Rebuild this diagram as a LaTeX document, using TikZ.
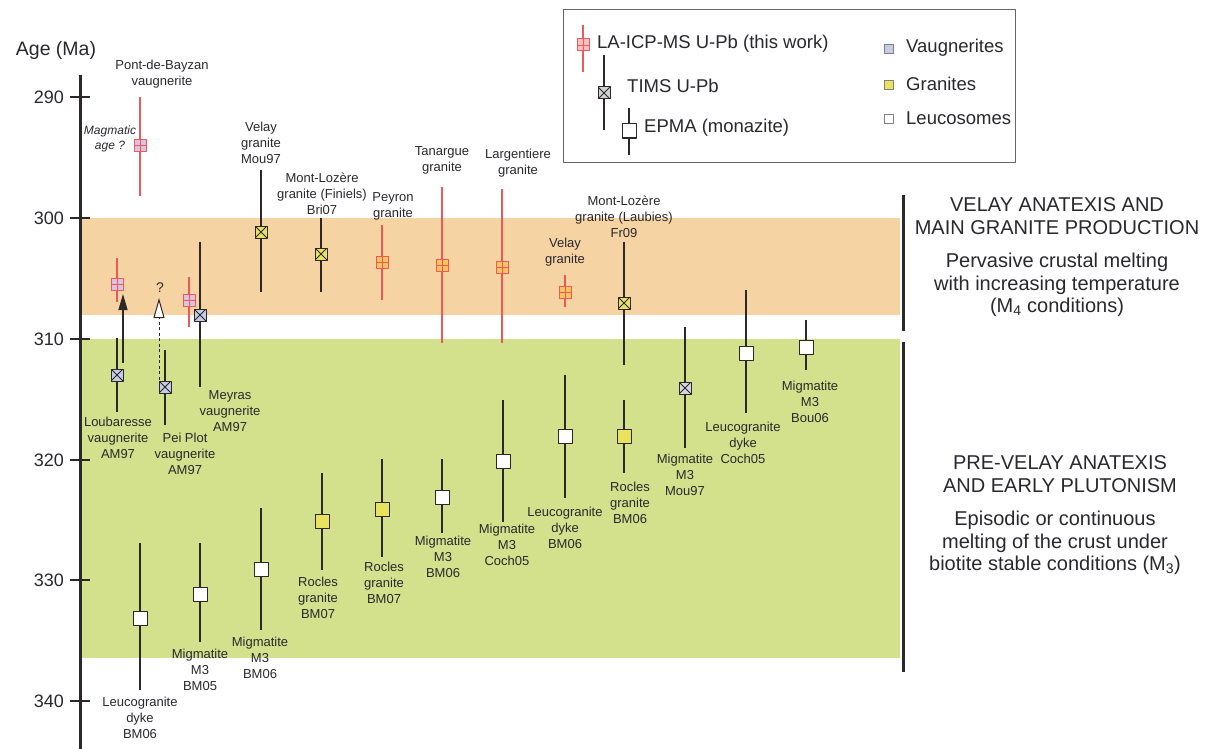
\documentclass[tikz,border=0pt]{standalone}
\usepackage{fontspec}
\setmainfont{Liberation Sans}
\usetikzlibrary{arrows.meta}
\definecolor{bandorange}{RGB}{246,211,163}
\definecolor{bandgreen}{RGB}{212,225,140}
\definecolor{barred}{RGB}{238,88,88}
\definecolor{bargray}{RGB}{45,40,40}
\definecolor{txtgray}{RGB}{40,40,45}
\definecolor{vaugfill}{RGB}{196,204,232}
\definecolor{granfill}{RGB}{232,226,92}
\definecolor{migfill}{RGB}{214,214,224}
\definecolor{lavaug}{RGB}{214,196,226}
\definecolor{lagran}{RGB}{250,196,96}
\begin{document}
\begin{tikzpicture}[x=1pt, y=-1pt, line join=round, >=Stealth,
	lbl/.style={font=\fontsize{13}{16}\selectfont, align=center, text=txtgray, inner sep=0pt},
	bigtxt/.style={font=\fontsize{20}{22.5}\selectfont, align=center, text=txtgray, inner sep=0pt},
	legtxt/.style={font=\fontsize{18.5}{20}\selectfont, text=txtgray, anchor=west, inner sep=0pt},
	bar/.style={line width=1.3pt, draw=bargray},
	redbar/.style={line width=1.3pt, draw=barred},
	axisline/.style={line width=3pt, draw=bargray},
	tims/.style={rectangle, draw=bargray, line width=1pt, minimum size=12pt, inner sep=0pt,
		path picture={\draw[line width=0.8pt, bargray]
			(path picture bounding box.north west)--(path picture bounding box.south east)
			(path picture bounding box.north east)--(path picture bounding box.south west);}},
	epma/.style={rectangle, draw=bargray, line width=1pt, minimum size=14pt, inner sep=0pt, fill=white},
	laicp/.style={rectangle, draw=barred, line width=1pt, minimum size=12pt, inner sep=0pt,
		path picture={\draw[line width=0.8pt, barred]
			(path picture bounding box.west)--(path picture bounding box.east)
			(path picture bounding box.north)--(path picture bounding box.south);}},
	swatch/.style={rectangle, draw=gray, line width=0.8pt, minimum size=9pt, inner sep=0pt}]
	\def \xaxis{80}
	\def \ymin{75}
	\def \ymax{749}
	\def \xband{900}
	\useasboundingbox (0,0) rectangle (1212,749);
	% melting periods
	\fill[bandorange] (81,218) rectangle (\xband,315);
	\fill[bandgreen] (81,339) rectangle (\xband,658);
	\draw[axisline] (903,195)--(903,331);
	\draw[axisline] (903,342)--(903,672);
	% age axis
	\draw[axisline] (\xaxis,\ymin)--(\xaxis,\ymax);
	\node[font=\fontsize{19.5}{20}\selectfont, text=txtgray] (agetitle) at (56,50) {Age (Ma)};
	\foreach \y/\ny in {97/290,218/300,339/310,460/320,580/330,701/340}{
		\draw[line width=2.5pt, bargray] (70,\y)--(90,\y);
		\node[font=\fontsize{18}{20}\selectfont, text=txtgray, anchor=east, inner sep=0pt] (tick\ny) at (64,\y) {\ny};
	}
	% LA-ICP-MS U-Pb
	\foreach \nm/\x/\ya/\yc/\yb/\col in {pdb/140/97/145/196/lavaug, loub/117/258/284/302/lavaug,
		mey/189/277/300/327/lavaug, pey/382/225/262/300/lagran, tan/442/187/265/343/lagran,
		lar/502/189/267/343/lagran, vel/565/275/292/307/lagran}{
		\draw[redbar] (\x,\ya)--(\x,\yb);
		\node[laicp, fill=\col] (la\nm) at (\x,\yc) {};
	}
	% TIMS U-Pb
	\foreach \nm/\x/\ya/\yc/\yb/\col in {loub/117/338/375/412/vaugfill, pei/165/350/387/425/vaugfill,
		mey/200/242/315/387/vaugfill, velm/261/170/232/292/granfill, fin/321/218/254/292/granfill,
		lau/624/242/303/365/granfill, migm/685/327/388/448/migfill}{
		\draw[bar] (\x,\ya)--(\x,\yb);
		\node[tims, fill=\col] (tims\nm) at (\x,\yc) {};
	}
	% EPMA (monazite)
	\foreach \nm/\x/\ya/\yc/\yb/\col in {rocl/624/400/436/473/granfill, lcoch/746/290/353/413/white,
		bou/806/320/347/370/white, lbm/565/375/436/498/white, mcoch/503/400/461/522/white,
		mbm/442/459/497/533/white, rbma/382/459/509/557/granfill, rbmb/322/473/521/570/granfill,
		mbmc/261/508/569/630/white, mbmd/200/543/594/642/white, lbme/140/543/618/690/white}{
		\draw[bar] (\x,\ya)--(\x,\yb);
		\node[epma, fill=\col] (epma\nm) at (\x,\yc) {};
	}
	% arrows
	\coordinate (loubfrom) at (123,363);
	\coordinate (loubto) at (123,294);
	\draw[line width=1.3pt, bargray, -{Triangle[length=16pt,width=9pt]}] (loubfrom)--(loubto);
	\coordinate (peifrom) at (159,385);
	\coordinate (peito) at (159,298);
	\draw[line width=1pt, bargray, dash pattern=on 3pt off 2.5pt,
		-{Triangle[length=20pt,width=11pt,fill=white]}] (peifrom)--(peito);
	\node[font=\fontsize{14}{16}\selectfont, text=txtgray, inner sep=0pt] (peiq) at (160,288) {?};
	% sample labels
	\node[lbl] (lpdb) at (162,74) {Pont-de-Bayzan\\vaugnerite};
	\node[lbl, font=\fontsize{12}{15}\itshape] (lmagm) at (110,139) {Magmatic\\age ?};
	\node[lbl] (lloub) at (118,438) {Loubaresse\\vaugnerite\\AM97};
	\node[lbl] (lpei) at (185,454) {Pei Plot\\vaugnerite\\AM97};
	\node[lbl] (lmey) at (230,411) {Meyras\\vaugnerite\\AM97};
	\node[lbl] (lvelm) at (261,143) {Velay\\granite\\Mou97};
	\node[lbl] (lfin) at (322,194) {Mont-Lozère\\granite (Finiels)\\Bri07};
	\node[lbl] (lpey) at (393,206) {Peyron\\granite};
	\node[lbl] (ltan) at (442,160) {Tanargue\\granite};
	\node[lbl] (llar) at (518,163) {Largentiere\\granite};
	\node[lbl] (lvel) at (565,252) {Velay\\granite};
	\node[lbl] (llau) at (624,217) {Mont-Lozère\\granite (Laubies)\\Fr09};
	\node[lbl] (lrocl) at (630,503) {Rocles\\granite\\BM06};
	\node[lbl] (lmigm) at (685,475) {Migmatite\\M3\\Mou97};
	\node[lbl] (llcoch) at (743,443) {Leucogranite\\dyke\\Coch05};
	\node[lbl] (lbou) at (810,402) {Migmatite\\M3\\Bou06};
	\node[lbl] (llbm) at (565,528) {Leucogranite\\dyke\\BM06};
	\node[lbl] (lmcoch) at (507,545) {Migmatite\\M3\\Coch05};
	\node[lbl] (lmbm) at (443,557) {Migmatite\\M3\\BM06};
	\node[lbl] (lrbma) at (384,583) {Rocles\\granite\\BM07};
	\node[lbl] (lrbmb) at (318,598) {Rocles\\granite\\BM07};
	\node[lbl] (lmbmc) at (260,658) {Migmatite\\M3\\BM06};
	\node[lbl] (lmbmd) at (200,670) {Migmatite\\M3\\BM05};
	\node[lbl] (llbme) at (140,718) {Leucogranite\\dyke\\BM06};
	% periods
	\node[bigtxt] (velay) at (1057,216) {VELAY ANATEXIS AND\\MAIN GRANITE PRODUCTION};
	\node[bigtxt] (velaym) at (1057,285) {Pervasive crustal melting\\with increasing temperature\\(M\textsubscript{4} conditions)};
	\node[bigtxt] (prevel) at (1060,474) {PRE-VELAY ANATEXIS\\AND EARLY PLUTONISM};
	\node[bigtxt] (prevelm) at (1055,543) {Episodic or continuous\\melting of the crust under\\biotite stable conditions (M\textsubscript{3})};
	% legend
	\draw[line width=1pt, draw=gray!80!black, fill=white] (563,10) rectangle (1015,162);
	\draw[redbar] (583,25)--(583,72);
	\node[laicp, fill=red!25] (legla) at (583,45) {};
	\node[legtxt] (leglatxt) at (597,44) {LA-ICP-MS U-Pb (this work)};
	\draw[bar] (604,55)--(604,130);
	\node[tims, fill=gray!35] (legtims) at (604,93) {};
	\node[legtxt] (legtimstxt) at (627,86) {TIMS U-Pb};
	\draw[bar] (629,108)--(629,155);
	\node[epma] (legepma) at (629,131) {};
	\node[legtxt] (legepmatxt) at (644,128) {EPMA (monazite)};
	\node[swatch, fill=vaugfill] (legvaug) at (889,49) {};
	\node[legtxt] (legvaugtxt) at (906,48) {Vaugnerites};
	\node[swatch, fill=granfill] (leggran) at (889,85) {};
	\node[legtxt] (leggrantxt) at (906,84) {Granites};
	\node[swatch, fill=white] (legleuc) at (889,119) {};
	\node[legtxt] (legleuctxt) at (906,118) {Leucosomes};
\end{tikzpicture}
\end{document}
